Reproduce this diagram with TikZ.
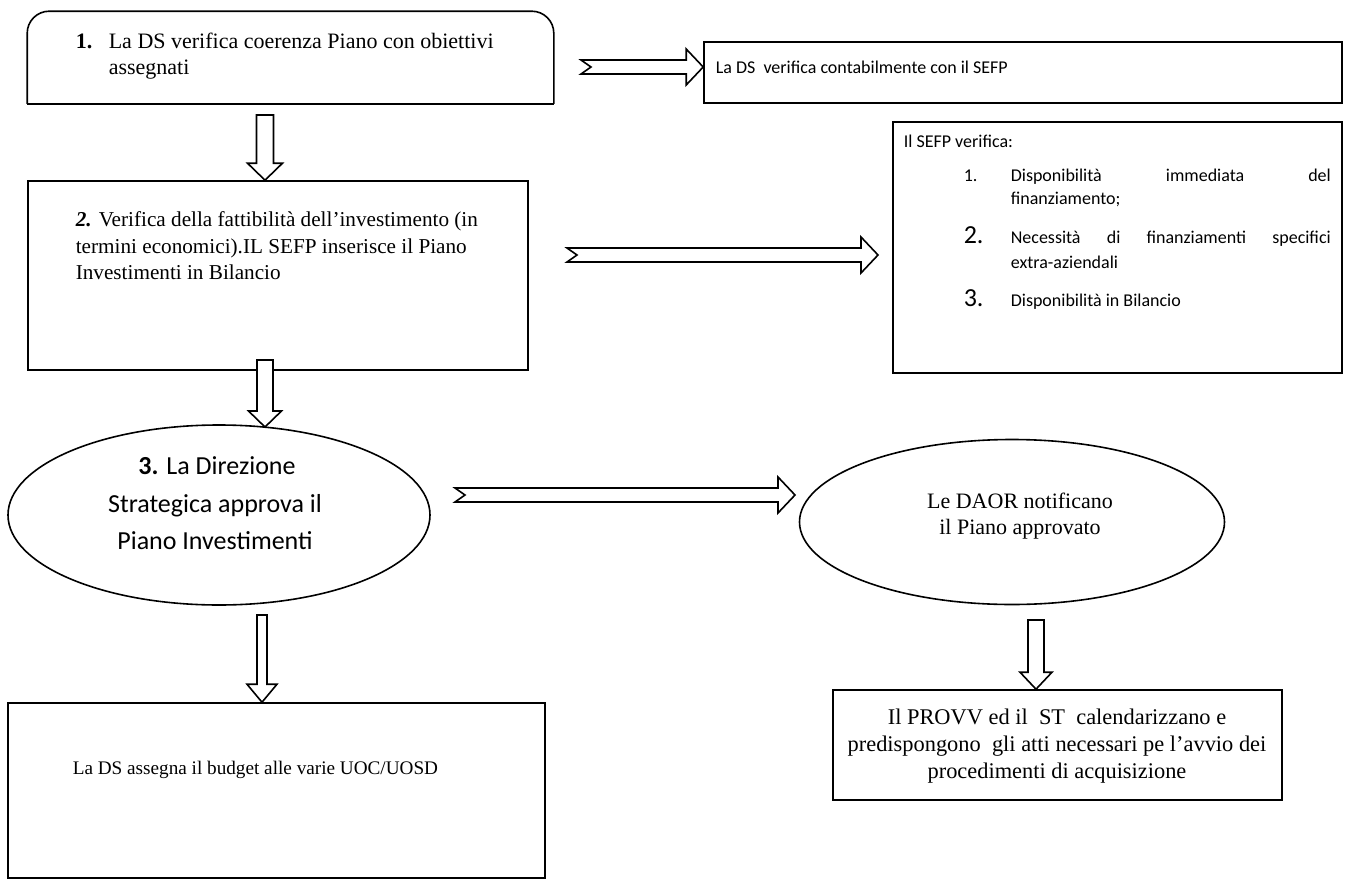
\documentclass[tikz,border=0pt]{standalone}
\usepackage{fontspec}
\setmainfont{Liberation Serif}
\newfontfamily\calfont{Carlito}
\usetikzlibrary{calc,fit,shapes.geometric}

\newcommand\hArrow[2]{%
 \draw[arr] let \p1=(#1), \p2=(#2) in
 (\x1,\y1+3.5pt) -- (\x2-8.5pt,\y1+3.5pt) -- (\x2-8.5pt,\y1+9pt) -- (\x2,\y1)
 -- (\x2-8.5pt,\y1-9pt) -- (\x2-8.5pt,\y1-3.5pt) -- (\x1,\y1-3.5pt) -- (\x1+5pt,\y1) -- cycle;}
\newcommand\vArrow[5]{%
 \draw[arr] let \p1=(#1), \p2=(#2) in
 (\x1-#3,\y1) -- (\x1-#3,\y2+#5) -- (\x1-#4,\y2+#5) -- (\x1,\y2)
 -- (\x1+#4,\y2+#5) -- (\x1+#3,\y2+#5) -- (\x1+#3,\y1) -- cycle;}

\begin{document}
\begin{tikzpicture}[x=0.5pt,y=-0.5pt,line width=0.8pt,
  box/.style={draw,inner sep=0pt},
  frame/.style={inner sep=0pt},
  arr/.style={draw,fill=white,line width=0.8pt,line join=miter},
  serif/.style={font=\fontsize{11}{13.25}\selectfont,inner sep=0pt},
  sans/.style={font=\calfont\fontsize{9}{12}\selectfont,inner sep=0pt},
  big/.style={font=\calfont\fontsize{13}{13}\selectfont,inner sep=0pt},
  L/.style={anchor=base west},
  C/.style={anchor=base},
  ell/.style={draw,ellipse,inner sep=0pt}]
\path[use as bounding box] (0,0) rectangle (1372,884);

% boxes
\node[frame,fit={(28,12)(553,103)}] (b1) {};
\draw[rounded corners=11pt] (b1.south west) -- (b1.north west) -- (b1.north east) -- (b1.south east);
\draw (b1.south west) -- (b1.south east);
\node[box,fit={(704,42)(1342,103)}] (b2) {};
\node[box,fit={(28,181)(528,370)}] (b3) {};
\node[box,fit={(893,122)(1342,373)}] (b4) {};
\node[ell,minimum width=211pt,minimum height=90pt] (e3) at (219,515) {};
\node[ell,minimum width=212.5pt,minimum height=82.5pt] (e4) at (1012,522) {};
\node[box,fit={(833,690)(1282,800)}] (b5) {};
\node[box,fit={(8,703)(545,878)}] (b6) {};

% box 1
\node[serif,L] (t1n) at (75,48) {\textbf{1.}};
\node[serif,L] (t1a) at (108,48) {La DS verifica coerenza Piano con obiettivi};
\node[serif,L] (t1b) at (108,74) {assegnati};
% box 2
\node[sans,L] (t2) at (715,73) {La DS\ \ verifica contabilmente con il SEFP};
% box 3
\node[serif,font=\fontsize{10.6}{13}\selectfont,L] (t3a) at (75,226) {\textbf{\textit{2.}} Verifica della fattibilità dell’investimento (in};
\node[serif,font=\fontsize{10.6}{13}\selectfont,L] (t3b) at (75,253) {termini economici).IL SEFP inserisce il Piano};
\node[serif,font=\fontsize{10.6}{13}\selectfont,L] (t3c) at (75,279) {Investimenti in Bilancio};
% box 4
\node[sans,L] (t4) at (903,147) {Il SEFP verifica:};
\node[sans,L] (t4n1) at (963,181) {1.};
\node[sans,L] (t4i1a) at (1010,181) {\makebox[160pt][s]{Disponibilità immediata del}};
\node[sans,L] (t4i1b) at (1010,204) {finanziamento;};
\node[big,L] (t4n2) at (963,243) {2.};
\node[sans,L] (t4i2a) at (1010,243) {\makebox[160pt][s]{Necessità di finanziamenti specifici}};
\node[sans,L] (t4i2b) at (1010,268) {extra-aziendali};
\node[big,L] (t4n3) at (963,306) {3.};
\node[sans,L] (t4i3) at (1010,306) {Disponibilità in Bilancio};
% ellipse 3
\node[big,C] (t5a) at (217,474) {\textbf{3.} La Direzione};
\node[big,C] (t5b) at (215,512) {Strategica approva il};
\node[big,C] (t5c) at (215,549) {Piano Investimenti};
% ellipse DAOR
\node[serif,C] (t6a) at (1020,508) {Le DAOR notificano};
\node[serif,C] (t6b) at (1020,534) {il Piano approvato};
% box PROVV
\node[serif,font=\fontsize{11.2}{13}\selectfont,C] (t7a) at (1057,724) {Il PROVV ed il\ \ ST\ \ calendarizzano e};
\node[serif,font=\fontsize{11.2}{13}\selectfont,C] (t7b) at (1057,751) {predispongono\ \ gli atti necessari pe l’avvio dei};
\node[serif,font=\fontsize{11.2}{13}\selectfont,C] (t7c) at (1057,778) {procedimenti di acquisizione};
% box bottom left
\node[serif,font=\fontsize{9.6}{12}\selectfont,L] (t8) at (72,774) {La DS assegna il budget alle varie UOC/UOSD};

% connectors
\coordinate (a1s) at (581,67);
\coordinate (a1e) at (b2.west |- a1s);
\hArrow{a1s}{a1e}
\coordinate (a2s) at (265,115);
\coordinate (a2e) at (a2s |- b3.north);
\vArrow{a2s}{a2e}{4.25pt}{8.75pt}{8.5pt}
\coordinate (a3s) at (567,255);
\coordinate (a3e) at (878,255);
\hArrow{a3s}{a3e}
\coordinate (a4s) at (265,360);
\coordinate (a4e) at (265,427);
\vArrow{a4s}{a4e}{4pt}{8.25pt}{8pt}
\coordinate (a5s) at (455,495);
\coordinate (a5e) at (795,495);
\hArrow{a5s}{a5e}
\coordinate (a6s) at (1036,620);
\coordinate (a6e) at (a6s |- b5.north);
\vArrow{a6s}{a6e}{4pt}{8pt}{8.5pt}
\coordinate (a7s) at (262,615);
\coordinate (a7e) at (a7s |- b6.north);
\vArrow{a7s}{a7e}{2.5pt}{7.5pt}{9pt}
\end{tikzpicture}
\end{document}
